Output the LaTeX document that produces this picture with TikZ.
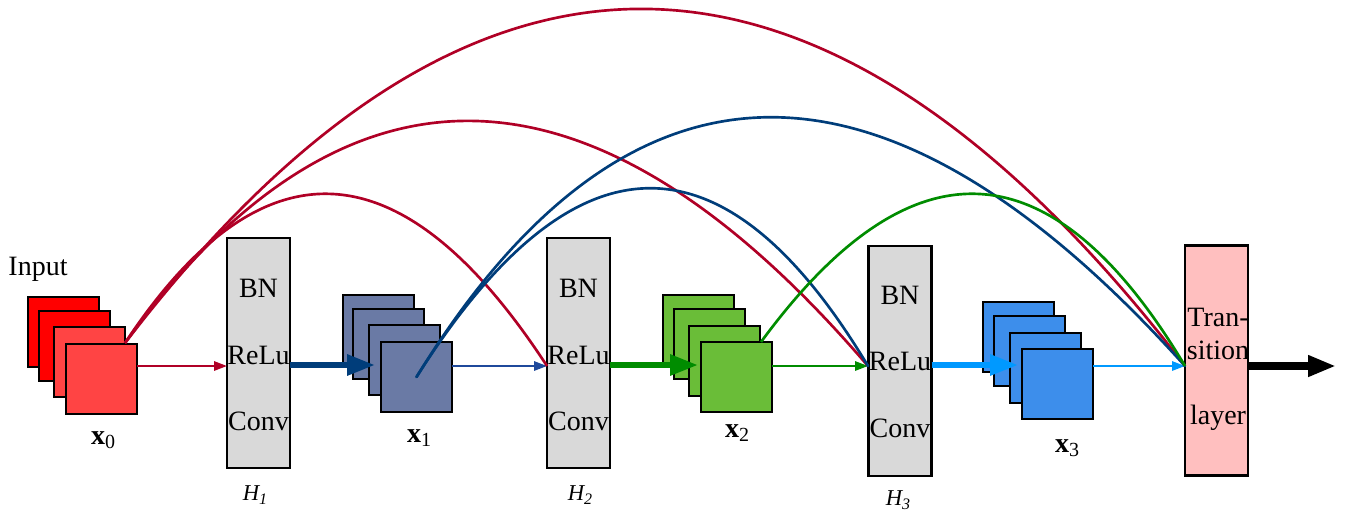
\documentclass[tikz,border=0pt]{standalone}
\usepackage{fontspec}
\setmainfont{Liberation Serif}
\usetikzlibrary{arrows.meta,calc}
\definecolor{arcred}{RGB}{176,0,38}
\definecolor{navy}{RGB}{0,61,122}
\definecolor{thinnavy}{RGB}{31,73,155}
\definecolor{dgreen}{RGB}{0,140,0}
\definecolor{lblue}{RGB}{0,153,255}
\definecolor{fmred}{RGB}{255,0,0}
\definecolor{fmredl}{RGB}{255,68,68}
\definecolor{fmslate}{RGB}{106,122,165}
\definecolor{fmgreen}{RGB}{106,189,56}
\definecolor{fmblue}{RGB}{61,142,235}
\definecolor{boxgray}{RGB}{217,217,217}
\definecolor{transpink}{RGB}{255,191,191}
\newcommand\xlab[1]{{\fontsize{21}{21}\selectfont\bfseries x}\raisebox{-3pt}{\fontsize{15}{15}\selectfont #1}}
\newcommand\hlab[1]{{\fontsize{17}{17}\selectfont\itshape H}\raisebox{-3pt}{\fontsize{12}{12}\selectfont\itshape #1}}
\tikzset{
  fm/.style={draw=black, line width=1.6pt, anchor=north west, minimum width=53.25pt, minimum height=52.5pt, inner sep=0pt, outer sep=0pt},
  hbox/.style={draw=black, line width=1.6pt, minimum width=47.25pt, minimum height=172.5pt, inner sep=0pt, outer sep=0pt},
  txt/.style={font=\fontsize{21}{21}\selectfont, inner sep=0pt, anchor=base},
  lbl/.style={inner sep=0pt, anchor=base},
  thinarrow/.style={line width=1.5pt, -{Triangle[length=9.75pt,width=7pt]}},
  thickarrow/.style={line width=4.5pt, -{Triangle[length=21pt,width=15pt]}},
  arc/.style={line width=2pt}
}
\begin{document}
\begin{tikzpicture}[x=0.75pt,y=-0.75pt]
\useasboundingbox (0,0) rectangle (1345,512);

% feature maps x0
\node[fm, fill=fmred]  (x0a) at (28,297) {};
\node[fm, fill=fmred]  (x0b) at (39,311) {};
\node[fm, fill=fmredl] (x0c) at (54,327) {};
\node[fm, fill=fmredl] (x0)  at (66,344) {};
% x1
\node[fm, fill=fmslate] (x1a) at (343,295) {};
\node[fm, fill=fmslate] (x1b) at (353,309) {};
\node[fm, fill=fmslate] (x1c) at (369,325) {};
\node[fm, fill=fmslate] (x1)  at (381,342) {};
% x2
\node[fm, fill=fmgreen] (x2a) at (663,295) {};
\node[fm, fill=fmgreen] (x2b) at (674,309) {};
\node[fm, fill=fmgreen] (x2c) at (689,326) {};
\node[fm, fill=fmgreen] (x2)  at (701,342) {};
% x3
\node[fm, fill=fmblue] (x3a) at (983,302) {};
\node[fm, fill=fmblue] (x3b) at (994,316) {};
\node[fm, fill=fmblue] (x3c) at (1010,333) {};
\node[fm, fill=fmblue] (x3)  at (1022,349) {};

% boxes
\node[hbox, fill=boxgray] (H1) at (258.5,353) {};
\node[hbox, fill=boxgray] (H2) at (578.5,353) {};
\node[hbox, fill=boxgray] (H3) at (900,361) {};
\node[hbox, fill=transpink] (T) at (1216.5,360.5) {};

% box texts
\node[txt] (h1a) at (258.5,297) {BN};
\node[txt] (h1b) at (258.5,364) {ReLu};
\node[txt] (h1c) at (258.5,430) {Conv};
\node[txt] (h2a) at (578.5,297) {BN};
\node[txt] (h2b) at (578.5,364) {ReLu};
\node[txt] (h2c) at (578.5,430) {Conv};
\node[txt] (h3a) at (900,304) {BN};
\node[txt] (h3b) at (900,370) {ReLu};
\node[txt] (h3c) at (900,437) {Conv};
\node[txt] (ta) at (1218,326) {Tran-};
\node[txt] (tb) at (1218,359) {sition};
\node[txt] (tc) at (1218,424) {layer};

% labels
\node[txt] (inp) at (38,275) {Input};
\node[lbl] (lx0) at (103,444) {\xlab{0}};
\node[lbl] (lx1) at (419,442) {\xlab{1}};
\node[lbl] (lx2) at (737,437) {\xlab{2}};
\node[lbl] (lx3) at (1067,452) {\xlab{3}};
\node[lbl] (lh1) at (255,500) {\hlab{1}};
\node[lbl] (lh2) at (580,500) {\hlab{2}};
\node[lbl] (lh3) at (898,505) {\hlab{3}};

% entry coordinates
\coordinate (h1in) at (227,366);
\coordinate (h2in) at (547,366);
\coordinate (h3in) at (868,366);
\coordinate (tin)  at (1185,366);
\coordinate (out)  at (1336,366);

% thin arrows
\draw[thinarrow, arcred] (x0.east |- h1in) -- (h1in);
\draw[thinarrow, thinnavy] (x1.east |- h2in) -- (h2in);
\draw[thinarrow, dgreen] (x2.east |- h3in) -- (h3in);
\draw[thinarrow, lblue] (x3.east |- tin) -- (tin);

% thick arrows
\coordinate (x1in) at (375,365);
\coordinate (x2in) at (698,365);
\coordinate (x3in) at (1018,365);
\draw[thickarrow, navy] (H1.east |- x1in) -- (x1in);
\draw[thickarrow, dgreen] (H2.east |- x2in) -- (x2in);
\draw[thickarrow, lblue] (H3.east |- x3in) -- (x3in);
\draw[line width=5.5pt, -{Triangle[length=21pt,width=15pt]}, black] (T.east |- out) -- (out);

% dense connections
\coordinate (s0) at (125,343);
\coordinate (s1) at (x1.center);
\coordinate (s2) at (761,342);
\coordinate (qa) at (330,33.5);
\coordinate (qb) at (457.5,-112.5);
\coordinate (qc) at (645,-336.5);
\coordinate (qd) at (651.5,5);
\coordinate (qe) at (733,-137);
\coordinate (qf) at (987,34);
\draw[arc, arcred] (s0) .. controls ($(s0)!2/3!(qa)$) and ($(h2in)!2/3!(qa)$) .. (h2in);
\draw[arc, arcred] (s0) .. controls ($(s0)!2/3!(qb)$) and ($(h3in)!2/3!(qb)$) .. (h3in);
\draw[arc, arcred] (s0) .. controls ($(s0)!2/3!(qc)$) and ($(tin)!2/3!(qc)$) .. (tin);
\draw[arc, navy, line cap=round] (s1) .. controls ($(s1)!2/3!(qd)$) and ($(h3in)!2/3!(qd)$) .. (h3in);
\draw[arc, navy, line cap=round] (s1) .. controls ($(s1)!2/3!(qe)$) and ($(tin)!2/3!(qe)$) .. (tin);
\draw[arc, dgreen] (s2) .. controls ($(s2)!2/3!(qf)$) and ($(tin)!2/3!(qf)$) .. (tin);
\end{tikzpicture}
\end{document}
